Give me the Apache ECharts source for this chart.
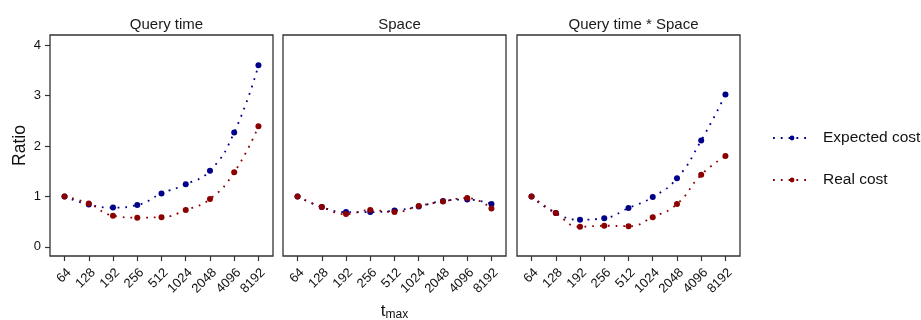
<!DOCTYPE html>
<html>
<head>
<meta charset="utf-8">
<script src="https://cdn.jsdelivr.net/npm/echarts@6/dist/echarts.min.js"></script>
<style>html,body{margin:0;padding:0;background:#fff}#main{width:921px;height:320px}</style>
</head>
<body>
<div id="main"></div>
<script>
var tmax = ['64','128','192','256','512','1024','2048','4096','8192'];
var panels = ['Query time','Space','Query time * Space'];
var yTicks = [0,1,2,3,4];

// expected / real cost per panel
var qtExpected = [1.0,0.84,0.78,0.83,1.06,1.24,1.51,2.27,3.60];
var qtReal     = [1.0,0.86,0.62,0.58,0.59,0.73,0.95,1.48,2.39];
var spExpected = [1.0,0.79,0.69,0.69,0.72,0.80,0.91,0.94,0.85];
var spReal     = [1.0,0.79,0.65,0.73,0.69,0.81,0.90,0.97,0.76];
var prExpected = [1.0,0.67,0.54,0.57,0.77,0.99,1.36,2.11,3.02];
var prReal     = [1.0,0.67,0.40,0.42,0.41,0.59,0.85,1.43,1.80];

var blue = '#00008B', red = '#8B0000';
var font = 'Liberation Sans, Arial, sans-serif';
var idx = tmax.map(function(t,i){return i;});
var lefts = [50,283,517];

function pairs(arr){
    return arr.map(function(v,i){return [i,v];});
}

var grids=[],xAxes=[],yAxes=[],titles=[];
for(var g=0;g<3;g++){
    grids.push({left:lefts[g],top:35,width:223,height:221,show:true,outerBoundsMode:'none',
        borderColor:'#333',borderWidth:1.3,backgroundColor:'#fff'});
    titles.push({text:panels[g],left:lefts[g]+111.5,top:12,textAlign:'center',
        textStyle:{fontFamily:font,fontSize:15,fontWeight:'normal',color:'#1a1a1a'}});
    xAxes.push({type:'value',gridIndex:g,min:-0.6,max:8.6,
        axisLine:{show:false,onZero:false},splitLine:{show:false},
        axisTick:{show:true,length:5,customValues:idx,lineStyle:{color:'#333',width:1.2}},
        axisLabel:{show:true,customValues:idx,rotate:45,margin:10,
            align:'right',verticalAlign:'top',
            fontFamily:font,fontSize:13,color:'#111',
            formatter:function(v){return tmax[Math.round(v)];}}});
    yAxes.push({type:'value',gridIndex:g,min:-0.18,max:4.2,
        axisLine:{show:false,onZero:false},splitLine:{show:false},
        axisTick:{show:g===0,length:5,customValues:yTicks,lineStyle:{color:'#333',width:1.2}},
        axisLabel:{show:g===0,customValues:yTicks,margin:9,
            fontFamily:font,fontSize:13,color:'#111'}});
}
yAxes[0].name='Ratio';
yAxes[0].nameLocation='middle';
yAxes[0].nameGap=21;
yAxes[0].nameTextStyle={fontFamily:font,fontSize:17.5,color:'#111'};
xAxes[1].name='{t|t}{s|max}';
xAxes[1].nameLocation='middle';
xAxes[1].nameGap=43;
xAxes[1].nameTextStyle={rich:{
    t:{fontFamily:font,fontSize:17,color:'#111'},
    s:{fontFamily:font,fontSize:12,color:'#111',verticalAlign:'bottom',padding:[8,0,0,0]}}};

var seriesData=[[qtExpected,qtReal],[spExpected,spReal],[prExpected,prReal]];
var series=[];
for(var p=0;p<3;p++){
    [['Expected cost',blue,0],['Real cost',red,1]].forEach(function(s){
        series.push({name:s[0],type:'line',xAxisIndex:p,yAxisIndex:p,
            data:pairs(seriesData[p][s[2]]),smooth:0.5,
            symbol:'circle',symbolSize:6,showAllSymbol:true,
            itemStyle:{color:s[1]},
            lineStyle:{color:s[1],width:1.8,type:[1.8,6]},
            z:s[2]===1?3:2});
    });
}

var chart=echarts.init(document.getElementById('main'));
chart.setOption({
    animation:false,
    title:titles,
    grid:grids,
    xAxis:xAxes,
    yAxis:yAxes,
    legend:{orient:'vertical',left:767,top:125,itemGap:26,itemWidth:38,itemHeight:6,
        data:['Expected cost','Real cost'],
        textStyle:{fontFamily:font,fontSize:15.5,color:'#111',padding:[0,0,0,7]}},
    series:series
});
</script>
</body>
</html>
